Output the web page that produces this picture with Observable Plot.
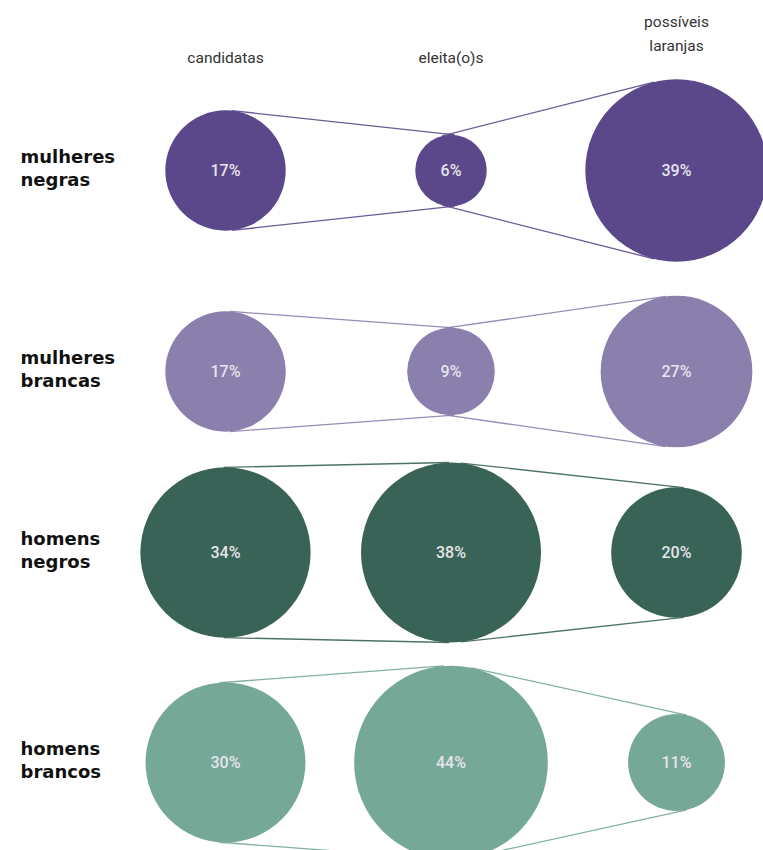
<!DOCTYPE html>
<html><head><meta charset="utf-8">
<script src="https://cdn.jsdelivr.net/npm/d3@7"></script>
<script src="https://cdn.jsdelivr.net/npm/@observablehq/plot@0.6"></script>
<style>body{margin:0;background:#fff;} svg{display:block;}</style>
</head><body><div id="chart"></div>
<script>
const columns = ["candidatas", "eleita(o)s", "possíveis\nlaranjas"];
const groups = ["mulheres\nnegras", "mulheres\nbrancas", "homens\nnegros", "homens\nbrancos"];
const candidatas = [17, 17, 34, 30];
const eleitos = [6, 9, 38, 44];
const laranjas = [39, 27, 20, 11];
const colors = ["#5b488a", "#8b7fae", "#3a6357", "#76a897"];

const series = [candidatas, eleitos, laranjas];
const data = [];
groups.forEach((g, gi) => series.forEach((s, ci) =>
  data.push({group: g, column: columns[ci], gi, ci, value: s[gi]})));

const xOpts = {type: "linear", domain: [0, 2], range: [225, 676]};
const yOpts = {type: "linear", domain: [0, 1, 2, 3], range: [170, 371, 552, 762]};
const rOpts = {type: "sqrt", domain: [0, 100], range: [0, 146]};

const X = Plot.scale({x: xOpts}), Y = Plot.scale({y: yOpts}), R = Plot.scale({r: rOpts});
const links = [];
groups.forEach((g, gi) => {
  for (let ci = 0; ci < 2; ci++) {
    const a = data.find(d => d.gi === gi && d.ci === ci);
    const b = data.find(d => d.gi === gi && d.ci === ci + 1);
    const ax = X.apply(ci), bx = X.apply(ci + 1), cy = Y.apply(gi);
    const ra = R.apply(a.value), rb = R.apply(b.value);
    const nx = (ra - rb) / (bx - ax), ny = Math.sqrt(1 - nx * nx);
    for (const s of [-1, 1]) {
      links.push({group: g,
        x1: X.invert(ax + ra * nx), y1: Y.invert(cy + s * ra * ny),
        x2: X.invert(bx + rb * nx), y2: Y.invert(cy + s * rb * ny)});
    }
  }
});

const chart = Plot.plot({
  width: 763, height: 850, margin: 0,
  x: {...xOpts, axis: null},
  y: {...yOpts, axis: null},
  r: rOpts,
  color: {domain: groups, range: colors},
  style: {fontFamily: "Roboto, sans-serif", background: "#fff", overflow: "hidden"},
  marks: [
    Plot.link(links, {x1: "x1", y1: "y1", x2: "x2", y2: "y2", stroke: "group", strokeWidth: 1.3, strokeOpacity: 0.9}),
    Plot.dot(data, {x: "ci", y: "gi", r: "value", fill: "group", stroke: null}),
    Plot.text(data, {x: "ci", y: "gi", text: d => d.value + "%", fill: "#e6e4ec", fontSize: 16, fontWeight: 500, fontFamily: "Roboto"}),
    Plot.text(groups, {y: (d, i) => i, frameAnchor: "left", dx: 20, dy: -3, textAnchor: "start",
      fontWeight: "bold", fontSize: 18, lineHeight: 1.28, fontFamily: "DejaVu Sans", fill: "#111"}),
    Plot.text(columns, {filter: d => !d.includes("\n"), x: (d, i) => columns.indexOf(d), frameAnchor: "top",
      lineAnchor: "bottom", dy: 62, fontSize: 15.5, fill: "#333", fontFamily: "Roboto"}),
    Plot.text(columns, {filter: d => d.includes("\n"), x: (d, i) => columns.indexOf(d), frameAnchor: "top",
      lineAnchor: "bottom", dy: 50, fontSize: 15.5, lineHeight: 1.5, fill: "#333", fontFamily: "Roboto"})
  ]
});
document.getElementById("chart").appendChild(chart);
</script>
</body></html>
